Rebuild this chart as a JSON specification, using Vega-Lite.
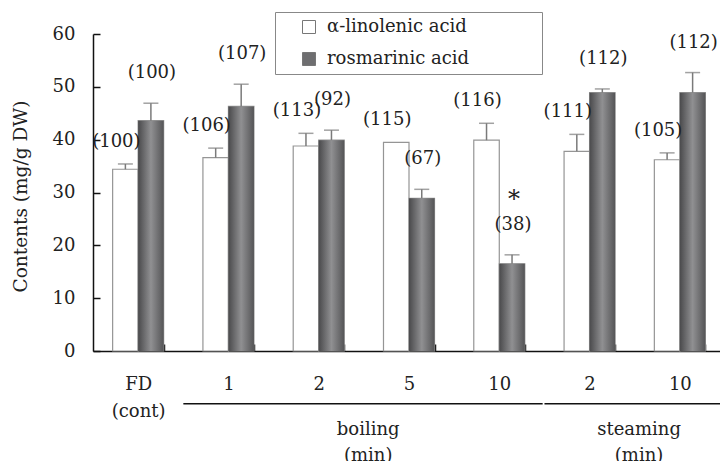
{
  "$schema": "https://vega.github.io/schema/vega-lite/v6.json",
  "width": 627,
  "height": 317,
  "autosize": {"type": "none"},
  "padding": {"left": 93, "top": 34, "right": 0, "bottom": 110},
  "background": "white",
  "config": {
    "view": {"stroke": null},
    "font": "DejaVu Serif",
    "text": {"font": "DejaVu Serif", "color": "#222"}
  },
  "datasets": {
    "bars": [
      {"cat": "FD", "series": "α-linolenic acid", "value": 34.4, "err": 35.4, "label": "(100)", "sig": null},
      {"cat": "FD", "series": "rosmarinic acid", "value": 43.6, "err": 46.9, "label": "(100)", "sig": null},
      {"cat": "b1", "series": "α-linolenic acid", "value": 36.6, "err": 38.4, "label": "(106)", "sig": null},
      {"cat": "b1", "series": "rosmarinic acid", "value": 46.3, "err": 50.5, "label": "(107)", "sig": null},
      {"cat": "b2", "series": "α-linolenic acid", "value": 38.8, "err": 41.2, "label": "(113)", "sig": null},
      {"cat": "b2", "series": "rosmarinic acid", "value": 39.9, "err": 41.8, "label": "(92)", "sig": null},
      {"cat": "b5", "series": "α-linolenic acid", "value": 39.5, "err": null, "label": "(115)", "sig": null},
      {"cat": "b5", "series": "rosmarinic acid", "value": 28.9, "err": 30.6, "label": "(67)", "sig": null},
      {"cat": "b10", "series": "α-linolenic acid", "value": 39.9, "err": 43.1, "label": "(116)", "sig": null},
      {"cat": "b10", "series": "rosmarinic acid", "value": 16.5, "err": 18.2, "label": "(38)", "sig": "*"},
      {"cat": "s2", "series": "α-linolenic acid", "value": 37.8, "err": 41.0, "label": "(111)", "sig": null},
      {"cat": "s2", "series": "rosmarinic acid", "value": 48.9, "err": 49.6, "label": "(112)", "sig": null},
      {"cat": "s10", "series": "α-linolenic acid", "value": 36.2, "err": 37.5, "label": "(105)", "sig": null},
      {"cat": "s10", "series": "rosmarinic acid", "value": 48.9, "err": 52.7, "label": "(112)", "sig": null}
    ],
    "groups": [
      {"start": "b1", "end": "b10", "mid": "b5", "name": ["boiling", "(min)"]},
      {"start": "s2", "end": "s10", "mid": "s10", "name": ["steaming", "(min)"]}
    ]
  },
  "data": {"name": "bars"},
  "encoding": {
    "x": {
      "field": "cat",
      "type": "nominal",
      "sort": null,
      "scale": {"domain": ["FD", "b1", "b2", "b5", "b10", "s2", "s10"], "range": [0, 632], "paddingInner": 0.435, "paddingOuter": 0.2175},
      "axis": {
        "title": null,
        "labelAngle": 0,
        "labelExpr": "datum.value == 'FD' ? ['FD', '(cont)'] : (isValid(datum.value) ? substring(datum.value, 1) : '')",
        "labelFont": "DejaVu Serif",
        "labelFontSize": 18,
        "labelColor": "#222",
        "labelBaseline": "top",
        "labelLineHeight": 27,
        "labelPadding": 31,
        "domainColor": "#111",
        "domainWidth": 1.5,
        "tickBand": "extent",
        "tickSize": -7,
        "tickColor": "#111",
        "tickWidth": 1.5
      }
    }
  },
  "layer": [
    {
      "mark": {"type": "bar", "stroke": "#959595", "strokeWidth": 1.2},
      "encoding": {
        "xOffset": {"field": "series", "type": "nominal", "scale": {"domain": ["α-linolenic acid", "rosmarinic acid"], "paddingInner": 0}},
        "y": {
          "field": "value",
          "type": "quantitative",
          "scale": {"domain": [0, 60], "nice": false},
          "axis": {
            "title": "Contents (mg/g DW)",
            "titleFont": "DejaVu Serif",
            "titleFontSize": 18.5,
            "titleFontWeight": "normal",
            "titleColor": "#222",
            "titleX": -73,
            "titleY": 162,
            "titleBaseline": "middle",
            "values": [0, 10, 20, 30, 40, 50, 60],
            "grid": false,
            "labelFont": "DejaVu Serif",
            "labelFontSize": 18,
            "labelColor": "#222",
            "labelPadding": 25,
            "domainColor": "#111",
            "domainWidth": 1.5,
            "tickSize": -7,
            "tickColor": "#111",
            "tickWidth": 1.5
          }
        },
        "color": {
          "field": "series",
          "type": "nominal",
          "scale": {"domain": ["α-linolenic acid", "rosmarinic acid"], "range": ["#ffffff", "#6e6e70"]},
          "legend": {
            "title": "\u00a0",
            "titleOrient": "right",
            "titlePadding": 67,
            "titleFontSize": 4,
            "orient": "none",
            "legendX": 182,
            "legendY": -22,
            "padding": 6,
            "strokeColor": "#888",
            "fillColor": "white",
            "symbolType": "square",
            "symbolSize": 169,
            "symbolStrokeColor": "#777",
            "symbolStrokeWidth": 1,
            "symbolOffset": 19,
            "labelOffset": 9,
            "rowPadding": 14,
            "labelFont": "DejaVu Serif",
            "labelFontSize": 18,
            "labelColor": "#222",
            "labelLimit": 400
          }
        }
      }
    },
    {
      "transform": [{"filter": "datum.series == 'rosmarinic acid'"}],
      "mark": {
        "type": "bar",
        "color": {
          "gradient": "linear",
          "x1": 0, "y1": 0, "x2": 1, "y2": 0,
          "stops": [
            {"offset": 0, "color": "#4a4a4c"},
            {"offset": 0.5, "color": "#909092"},
            {"offset": 1, "color": "#555557"}
          ]
        }
      },
      "encoding": {
        "xOffset": {"field": "series", "type": "nominal", "scale": {"domain": ["α-linolenic acid", "rosmarinic acid"], "paddingInner": 0}},
        "y": {"field": "value", "type": "quantitative"}
      }
    },
    {
      "transform": [{"filter": "isValid(datum.err)"}],
      "mark": {"type": "rule", "color": "#7a7a7a", "strokeWidth": 1.5},
      "encoding": {
        "xOffset": {"field": "series", "type": "nominal"},
        "y": {"field": "value", "type": "quantitative"},
        "y2": {"field": "err"}
      }
    },
    {
      "transform": [{"filter": "isValid(datum.err)"}],
      "mark": {"type": "tick", "color": "#7a7a7a", "thickness": 1.5, "size": 15, "orient": "horizontal"},
      "encoding": {
        "xOffset": {"field": "series", "type": "nominal"},
        "y": {"field": "err", "type": "quantitative"}
      }
    },
    {
      "transform": [
        {"filter": "datum.series == 'α-linolenic acid'"},
        {"calculate": "isValid(datum.err) ? datum.err : datum.value", "as": "top"}
      ],
      "mark": {"type": "text", "fontSize": 18, "dy": -22, "dx": -9, "baseline": "middle"},
      "encoding": {
        "xOffset": {"field": "series", "type": "nominal"},
        "y": {"field": "top", "type": "quantitative"},
        "text": {"field": "label"}
      }
    },
    {
      "transform": [{"filter": "datum.series == 'rosmarinic acid'"}],
      "mark": {"type": "text", "fontSize": 18, "dy": -30, "dx": 1, "baseline": "middle"},
      "encoding": {
        "xOffset": {"field": "series", "type": "nominal"},
        "y": {"field": "err", "type": "quantitative"},
        "text": {"field": "label"}
      }
    },
    {
      "transform": [{"filter": "isValid(datum.sig)"}],
      "mark": {"type": "text", "fontSize": 24, "dy": -55, "dx": 2, "baseline": "middle"},
      "encoding": {
        "xOffset": {"field": "series", "type": "nominal"},
        "y": {"field": "err", "type": "quantitative"},
        "text": {"field": "sig"}
      }
    },
    {
      "data": {"name": "groups"},
      "mark": {"type": "rule", "color": "#111", "strokeWidth": 1.5},
      "encoding": {
        "x": {"field": "start", "type": "nominal", "bandPosition": -0.384},
        "x2": {"field": "end", "bandPosition": 1.35},
        "y": {"datum": -10}
      }
    },
    {
      "data": {"name": "groups"},
      "mark": {"type": "text", "fontSize": 18, "baseline": "top", "align": "center", "lineHeight": 26},
      "encoding": {
        "x": {"field": "mid", "type": "nominal", "bandPosition": -0.3},
        "y": {"datum": -13.2},
        "text": {"field": "name"}
      }
    }
  ]
}
